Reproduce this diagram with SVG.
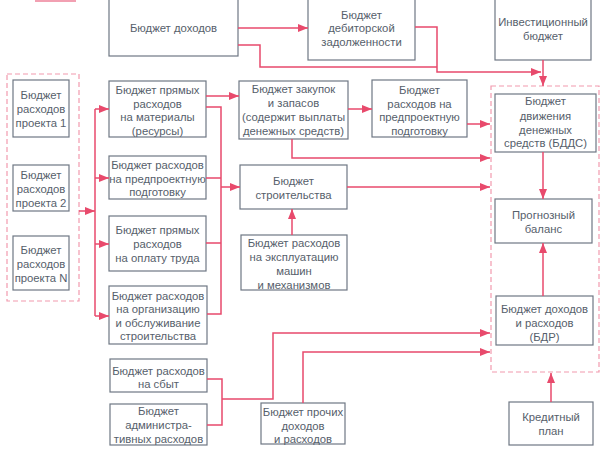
<svg xmlns="http://www.w3.org/2000/svg" width="606" height="449" viewBox="0 0 606 449">
<defs>
<marker id="ah" viewBox="0 0 10 8" refX="10" refY="4" markerWidth="10" markerHeight="8" markerUnits="userSpaceOnUse" orient="auto">
<path d="M0,0 L10,4 L0,8 Z" fill="#e84a6c"/>
</marker>
<style>
.b{fill:#fff;stroke:#6e7784;stroke-width:1.2}
.d{fill:none;stroke:#f29aae;stroke-width:1.2;stroke-dasharray:5,3}
text{font-family:"Liberation Sans",Arial,sans-serif;font-size:11.3px;fill:#56606b;text-anchor:middle}
.c path{fill:none;stroke:#e84a6c;stroke-width:1.5}
.a{marker-end:url(#ah)}
</style>
</defs>
<rect width="606" height="449" fill="#fff"/>
<line x1="35" y1="1" x2="76" y2="1" stroke="#f2a0b2" stroke-width="2"/>
<rect class="d" x="7" y="74" width="72" height="227"/>
<rect class="d" x="491" y="86" width="108" height="286"/>

<g id="inc"><rect class="b" x="109" y="-2" width="129" height="58"/><text x="173.5" y="32">Бюджет доходов</text></g>
<g id="deb"><rect class="b" x="308" y="-2" width="107" height="62"/><text x="361.5" y="19">Бюджет</text><text x="361.5" y="32">дебиторской</text><text x="361.5" y="46">задолженности</text></g>
<g id="inv"><rect class="b" x="495" y="-2" width="96" height="62"/><text x="543" y="26">Инвестиционный</text><text x="543" y="40">бюджет</text></g>

<g id="p1"><rect class="b" x="13" y="80" width="56" height="57"/><text x="41" y="99">Бюджет</text><text x="41" y="113">расходов</text><text x="41" y="127">проекта 1</text></g>
<g id="p2"><rect class="b" x="13" y="165" width="56" height="46"/><text x="41" y="179">Бюджет</text><text x="41" y="193">расходов</text><text x="41" y="207">проекта 2</text></g>
<g id="pN"><rect class="b" x="13" y="236" width="56" height="54"/><text x="41" y="254">Бюджет</text><text x="41" y="268">расходов</text><text x="41" y="282">проекта N</text></g>

<g id="mat"><rect class="b" x="109" y="81" width="97" height="56"/><text x="157.5" y="94">Бюджет прямых</text><text x="157.5" y="107.5">расходов</text><text x="157.5" y="121">на материалы</text><text x="157.5" y="134.5">(ресурсы)</text></g>
<g id="pre1"><rect class="b" x="109" y="156" width="97" height="43"/><text x="157.5" y="169">Бюджет расходов</text><text x="157.5" y="182.5">на предпроектную</text><text x="157.5" y="196">подготовку</text></g>
<g id="lab"><rect class="b" x="109" y="216" width="97" height="55"/><text x="157.5" y="234">Бюджет прямых</text><text x="157.5" y="248">расходов</text><text x="157.5" y="262">на оплату труда</text></g>
<g id="org"><rect class="b" x="109" y="286" width="98" height="58"/><text x="158" y="299.5">Бюджет  расходов</text><text x="158" y="313">на организацию</text><text x="158" y="326.5">и обслуживание</text><text x="158" y="340">строительства</text></g>
<g id="sales"><rect class="b" x="110" y="359" width="97" height="33"/><text x="158.5" y="375">Бюджет расходов</text><text x="158.5" y="388">на сбыт</text></g>
<g id="adm"><rect class="b" x="110" y="404" width="97" height="41"/><text x="158.5" y="415">Бюджет</text><text x="158.5" y="429">администра-</text><text x="158.5" y="443">тивных расходов</text></g>

<g id="pur"><rect class="b" x="239" y="81" width="109" height="58"/><text x="293.5" y="93">Бюджет закупок</text><text x="293.5" y="107">и запасов</text><text x="293.5" y="121">(содержит выплаты</text><text x="293.5" y="134.5">денежных средств)</text></g>
<g id="pre2"><rect class="b" x="372" y="80" width="95" height="57"/><text x="419.5" y="94">Бюджет</text><text x="419.5" y="107.5">расходов  на</text><text x="419.5" y="121">предпроектную</text><text x="419.5" y="134.5">подготовку</text></g>
<g id="con"><rect class="b" x="240" y="165" width="107" height="44"/><text x="293.5" y="185">Бюджет</text><text x="293.5" y="198.5">строительства</text></g>
<g id="mach"><rect class="b" x="241" y="235" width="106" height="55"/><text x="294" y="247">Бюджет расходов</text><text x="294" y="261">на эксплуатацию</text><text x="294" y="275">машин</text><text x="294" y="289">и механизмов</text></g>
<g id="oth"><rect class="b" x="261" y="403" width="84" height="41"/><text x="303" y="416">Бюджет прочих</text><text x="303" y="429.5">доходов</text><text x="303" y="443">и расходов</text></g>

<g id="bdds"><rect class="b" x="495" y="94" width="101" height="58"/><text x="545.5" y="105">Бюджет</text><text x="545.5" y="120">движения</text><text x="545.5" y="133.5">денежных</text><text x="545.5" y="147">средств (БДДС)</text></g>
<g id="fc"><rect class="b" x="495" y="199" width="97" height="44"/><text x="543.5" y="219">Прогнозный</text><text x="543.5" y="233">баланс</text></g>
<g id="bdr"><rect class="b" x="496" y="296" width="97" height="49"/><text x="544.5" y="313">Бюджет доходов</text><text x="544.5" y="327">и расходов</text><text x="544.5" y="341">(БДР)</text></g>
<g id="cred"><rect class="b" x="509" y="402" width="84" height="43"/><text x="551" y="421">Кредитный</text><text x="551" y="435">план</text></g>

<g id="connectors" class="c">
<path class="a" d="M238,28 H308"/>
<path d="M238,45 H260 V67 H437"/>
<path class="a" d="M415,27 H437 V72 H541"/>
<path class="a" d="M543,60 V86"/>
<path class="a" d="M206,96 H239"/>
<path d="M206,107 H221 V314 H207"/>
<path d="M206,178 H221 M206,243 H221"/>
<path class="a" d="M221,187 H240"/>
<path class="a" d="M79,211 H95"/>
<path d="M95,109 V316"/>
<path class="a" d="M95,109 H109"/>
<path class="a" d="M95,178 H109"/>
<path class="a" d="M95,244 H109"/>
<path class="a" d="M95,316 H109"/>
<path class="a" d="M348,109 H372"/>
<path class="a" d="M292,139 V158 H490"/>
<path class="a" d="M467,124 H490"/>
<path class="a" d="M347,187 H490"/>
<path class="a" d="M292,235 V209"/>
<path class="a" d="M543,152 V199"/>
<path class="a" d="M543,296 V243"/>
<path class="a" d="M551,402 V373"/>
<path d="M207,379 H222 V425 H207"/>
<path class="a" d="M222,399 H273 V333 H490"/>
<path class="a" d="M303,403 V352 H490"/>
</g>
</svg>
